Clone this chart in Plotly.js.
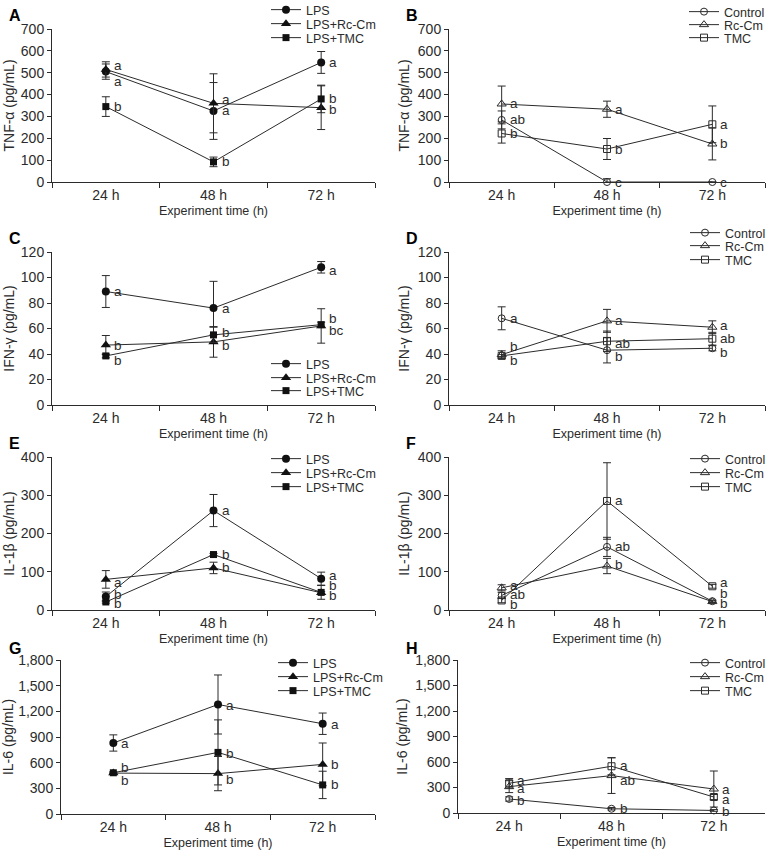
<!DOCTYPE html>
<html>
<head>
<meta charset="utf-8">
<script src="https://cdn.plot.ly/plotly-3.0.1.min.js"></script>
<style>html,body{margin:0;padding:0;background:#fff}#chart{width:778px;height:856px}</style>
</head>
<body>
<div id="chart"></div>
<script>
// ---------- DATA ----------
const times = ['24 h', '48 h', '72 h'];
const lpsNames = ['LPS', 'LPS+Rc-Cm', 'LPS+TMC'];
const ctrlNames = ['Control', 'Rc-Cm', 'TMC'];

// A: TNF-α, LPS-stimulated
const tnfLPS = [505, 325, 547], tnfLPSErr = [35, 130, 50], tnfLPSSig = ['a', 'a', 'a'];
const tnfLPSRc = [515, 360, 340], tnfLPSRcErr = [35, 135, 100], tnfLPSRcSig = ['a', 'a', 'b'];
const tnfLPSTmc = [345, 92, 380], tnfLPSTmcErr = [45, 22, 63], tnfLPSTmcSig = ['b', 'b', 'b'];
// B: TNF-α, unstimulated
const tnfCtrl = [284, 0, 0], tnfCtrlErr = [41, 15, 0], tnfCtrlSig = ['ab', 'c', 'c'];
const tnfRc = [357, 333, 174], tnfRcErr = [82, 37, 73], tnfRcSig = ['a', 'a', 'b'];
const tnfTmc = [222, 151, 264], tnfTmcErr = [44, 48, 84], tnfTmcSig = ['b', 'b', 'a'];
// C: IFN-γ, LPS-stimulated
const ifnLPS = [89, 76, 108], ifnLPSErr = [12.5, 21, 4.5], ifnLPSSig = ['a', 'a', 'a'];
const ifnLPSRc = [47, 49.5, 62], ifnLPSRcErr = [7.5, 12, 13.5], ifnLPSRcSig = ['b', 'b', 'bc'];
const ifnLPSTmc = [38.5, 55, 63], ifnLPSTmcErr = [1.5, 6, 2], ifnLPSTmcSig = ['b', 'b', 'b'];
// D: IFN-γ, unstimulated
const ifnCtrl = [68, 43, 44.5], ifnCtrlErr = [9, 10, 2], ifnCtrlSig = ['a', 'b', 'b'];
const ifnRc = [39.5, 66, 61], ifnRcErr = [3, 9, 5], ifnRcSig = ['b', 'a', 'a'];
const ifnTmc = [38.5, 50, 52], ifnTmcErr = [1, 8, 5], ifnTmcSig = ['b', 'ab', 'ab'];
// E: IL-1β, LPS-stimulated
const il1LPS = [35, 260, 82], il1LPSErr = [12, 42, 17], il1LPSSig = ['b', 'a', 'a'];
const il1LPSRc = [80, 110, 45], il1LPSRcErr = [23, 15, 3], il1LPSRcSig = ['a', 'b', 'b'];
const il1LPSTmc = [21, 145, 46], il1LPSTmcErr = [3, 3, 18], il1LPSTmcSig = ['b', 'b', 'b'];
// F: IL-1β, unstimulated
const il1Ctrl = [38, 165, 23], il1CtrlErr = [8, 25, 3], il1CtrlSig = ['ab', 'ab', 'b'];
const il1Rc = [58, 115, 22], il1RcErr = [8, 20, 2], il1RcSig = ['a', 'b', 'b'];
const il1Tmc = [25, 285, 62], il1TmcErr = [6, 100, 5], il1TmcSig = ['b', 'a', 'a'];
// G: IL-6, LPS-stimulated
const il6LPS = [830, 1280, 1055], il6LPSErr = [95, 345, 125], il6LPSSig = ['a', 'a', 'a'];
const il6LPSRc = [478, 472, 580], il6LPSRcErr = [10, 200, 250], il6LPSRcSig = ['b', 'b', 'b'];
const il6LPSTmc = [482, 720, 340], il6LPSTmcErr = [10, 380, 160], il6LPSTmcSig = ['b', 'b', 'b'];
// H: IL-6, unstimulated
const il6Ctrl = [165, 50, 30], il6CtrlErr = [25, 15, 10], il6CtrlSig = ['b', 'b', 'b'];
const il6Rc = [310, 440, 282], il6RcErr = [70, 210, 212], il6RcSig = ['a', 'ab', 'a'];
const il6Tmc = [350, 550, 188], il6TmcErr = [55, 100, 30], il6TmcSig = ['a', 'a', 'a'];

const yTitles = ['TNF-α (pg/mL)', 'IFN-γ (pg/mL)', 'IL-1β (pg/mL)', 'IL-6 (pg/mL)'];
const xTitle = 'Experiment time (h)';
const panelLetters = ['A', 'B', 'C', 'D', 'E', 'F', 'G', 'H'];

// ---------- STYLE / LAYOUT ----------
const W = 778, H = 856;
const FONT = 'Arial, "Liberation Sans", Helvetica, sans-serif';
const INK = '#2b2b2b';
const px = v => v / W, py = v => 1 - v / H;

const filledSym = ['circle', 'triangle-up', 'square'];
const openSym = ['circle-open', 'triangle-up-open', 'square-open'];
const filledSize = [8, 9, 7];
const openSize = [7, 8, 7];

// panel geometry (pixels): x = [axis left, axis right], y = [top, bottom],
// legX = legend left, legY = centres of the three legend rows
const panels = [
  {series: [[tnfLPS, tnfLPSErr, tnfLPSSig], [tnfLPSRc, tnfLPSRcErr, tnfLPSRcSig], [tnfLPSTmc, tnfLPSTmcErr, tnfLPSTmcSig]],
   names: lpsNames, open: false, ymax: 700, dtick: 100, title: yTitles[0],
   x: [52, 375], y: [29, 182], shifts: [[-10, 0, 0], [4, 4, -2], [0, 0, 0]], legX: 266, legY: [10, 24, 38]},
  {series: [[tnfCtrl, tnfCtrlErr, tnfCtrlSig], [tnfRc, tnfRcErr, tnfRcSig], [tnfTmc, tnfTmcErr, tnfTmcSig]],
   names: ctrlNames, open: true, ymax: 700, dtick: 100, title: yTitles[0],
   x: [449, 765], y: [29, 182], shifts: [[0, 0, 0], [0, 0, 0], [0, 0, 0]], legX: 684, legY: [12, 25, 38]},
  {series: [[ifnLPS, ifnLPSErr, ifnLPSSig], [ifnLPSRc, ifnLPSRcErr, ifnLPSRcSig], [ifnLPSTmc, ifnLPSTmcErr, ifnLPSTmcSig]],
   names: lpsNames, open: false, ymax: 120, dtick: 20, title: yTitles[1],
   x: [52, 375], y: [252, 405], shifts: [[0, 0, -3], [0, -4, -5], [-5, 2, 6]], legX: 266, legY: [364, 378, 391]},
  {series: [[ifnCtrl, ifnCtrlErr, ifnCtrlSig], [ifnRc, ifnRcErr, ifnRcSig], [ifnTmc, ifnTmcErr, ifnTmcSig]],
   names: ctrlNames, open: true, ymax: 120, dtick: 20, title: yTitles[1],
   x: [449, 765], y: [252, 405], shifts: [[0, -6, -4], [8, 0, 2], [-5, -2, 0]], legX: 685, legY: [233, 246, 260]},
  {series: [[il1LPS, il1LPSErr, il1LPSSig], [il1LPSRc, il1LPSRcErr, il1LPSRcSig], [il1LPSTmc, il1LPSTmcErr, il1LPSTmcSig]],
   names: lpsNames, open: false, ymax: 400, dtick: 100, title: yTitles[2],
   x: [52, 375], y: [457, 610], shifts: [[2, 0, 3], [-3, 0, -3], [-2, 0, 7]], legX: 266, legY: [459, 473, 487]},
  {series: [[il1Ctrl, il1CtrlErr, il1CtrlSig], [il1Rc, il1RcErr, il1RcSig], [il1Tmc, il1TmcErr, il1TmcSig]],
   names: ctrlNames, open: true, ymax: 400, dtick: 100, title: yTitles[2],
   x: [449, 765], y: [457, 610], shifts: [[1, 0, -2], [2, 2, 8], [-4, 0, 4]], legX: 685, legY: [459, 473, 487]},
  {series: [[il6LPS, il6LPSErr, il6LPSSig], [il6LPSRc, il6LPSRcErr, il6LPSRcSig], [il6LPSTmc, il6LPSTmcErr, il6LPSTmcSig]],
   names: lpsNames, open: false, ymax: 1800, dtick: 300, title: yTitles[3],
   x: [61, 375], y: [660, 814], shifts: [[-1, -1, -1], [-7, -6, 0], [5, -1, 0]], legX: 273, legY: [663, 677, 691]},
  {series: [[il6Ctrl, il6CtrlErr, il6CtrlSig], [il6Rc, il6RcErr, il6RcSig], [il6Tmc, il6TmcErr, il6TmcSig]],
   names: ctrlNames, open: true, ymax: 1800, dtick: 300, title: yTitles[3],
   x: [458, 765], y: [660, 813], shifts: [[-2, 0, -1], [-2, -5, 0], [3, 1, -2]], legX: 685, legY: [663, 677, 691]}
];

const traces = [];
const annotations = [];
const layout = {
  width: W, height: H,
  margin: {l: 0, r: 0, t: 0, b: 0, pad: 0, autoexpand: false},
  paper_bgcolor: '#fff', plot_bgcolor: '#fff',
  font: {family: FONT, size: 13, color: INK},
  showlegend: true
};

let legCount = 0;
panels.forEach((p, i) => {
  const n = i + 1;
  const sfx = n === 1 ? '' : String(n);
  p.series.forEach(([vals, errs, sig], k) => {
    legCount += 1;
    const legId = 'legend' + (legCount === 1 ? '' : String(legCount));
    traces.push({
      type: 'scatter', mode: 'lines+markers',
      x: times, y: vals, name: p.names[k],
      xaxis: 'x' + sfx, yaxis: 'y' + sfx, legend: legId,
      cliponaxis: false,
      line: {color: INK, width: 1},
      marker: p.open
        ? {symbol: openSym[k], size: openSize[k], color: INK, line: {color: INK, width: 1}}
        : {symbol: filledSym[k], size: filledSize[k], color: '#111'},
      error_y: {type: 'data', array: errs, visible: true, color: INK, thickness: 1, width: 4}
    });
    layout[legId] = {
      x: px(p.legX), y: py(p.legY[k]), xanchor: 'left', yanchor: 'middle',
      bgcolor: 'rgba(0,0,0,0)', borderwidth: 0,
      font: {family: FONT, size: 12.5, color: INK},
      itemwidth: 30
    };
    sig.forEach((s, j) => {
      annotations.push({
        xref: 'x' + sfx, yref: 'y' + sfx, x: times[j], y: vals[j],
        text: s, showarrow: false, xanchor: 'left', yanchor: 'middle',
        xshift: 6, yshift: p.shifts[k][j],
        font: {family: FONT, size: 13.5, color: INK}
      });
    });
  });
  layout['xaxis' + sfx] = {
    domain: [px(p.x[0]), px(p.x[1])], anchor: 'y' + sfx,
    type: 'category', range: [-0.5, 2.5], tickson: 'boundaries',
    ticks: 'outside', ticklen: 5, tickcolor: INK, showline: true, linecolor: INK, linewidth: 1,
    showgrid: false, zeroline: false, fixedrange: true, automargin: false,
    tickfont: {family: FONT, size: 14, color: INK},
    title: {text: xTitle, font: {family: FONT, size: 12.5, color: INK}, standoff: 4}
  };
  layout['yaxis' + sfx] = {
    domain: [py(p.y[1]), py(p.y[0])], anchor: 'x' + sfx,
    range: [0, p.ymax], dtick: p.dtick, tick0: 0,
    ticks: 'outside', ticklen: 4, tickcolor: INK, showline: true, linecolor: INK, linewidth: 1,
    showgrid: false, zeroline: false, fixedrange: true, automargin: false,
    tickformat: p.ymax >= 1000 ? ',d' : 'd',
    tickfont: {family: FONT, size: 14, color: INK},
    title: {text: p.title, font: {family: FONT, size: 14, color: INK}, standoff: (i % 2 === 0) ? 2 : 4}
  };
  const lx = (i % 2 === 0) ? 7 : 404;
  annotations.push({
    xref: 'paper', yref: 'paper', x: px(lx), y: py([15, 15, 238, 238, 443, 443, 648, 648][i]),
    xanchor: 'left', yanchor: 'middle', showarrow: false,
    text: '<b>' + panelLetters[i] + '</b>',
    font: {family: FONT, size: 16, color: '#000'}
  });
});
layout.annotations = annotations;

Plotly.newPlot('chart', traces, layout, {staticPlot: true, displayModeBar: false});
</script>
</body>
</html>
